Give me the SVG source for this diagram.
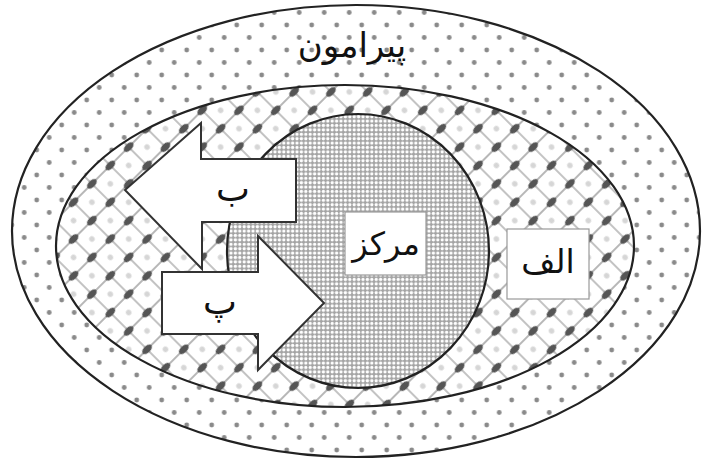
<svg xmlns="http://www.w3.org/2000/svg" width="704" height="462" viewBox="0 0 704 462">
<defs>
<pattern id="dots" patternUnits="userSpaceOnUse" x="11.7" y="0" width="25" height="25">
<rect width="25" height="25" fill="#fff"/>
<g fill="#8a8a8a"><circle cx="0" cy="0" r="2.4"/><circle cx="25" cy="0" r="2.4"/><circle cx="0" cy="25" r="2.4"/><circle cx="25" cy="25" r="2.4"/><circle cx="12.5" cy="12.5" r="2.4"/></g>
</pattern>
<pattern id="lattice" patternUnits="userSpaceOnUse" width="26" height="26" patternTransform="rotate(45)">
<rect width="26" height="26" fill="#fff"/>
<path d="M0 13H26M13 0V26" stroke="#888" stroke-width="1.2" fill="none"/>
<g fill="#d6d6d6"><circle cx="0" cy="0" r="2.8"/><circle cx="26" cy="0" r="2.8"/><circle cx="0" cy="26" r="2.8"/><circle cx="26" cy="26" r="2.8"/></g>
<ellipse cx="13" cy="13" rx="3.4" ry="6" fill="#555"/>
</pattern>
<pattern id="mesh" patternUnits="userSpaceOnUse" width="4.4" height="4.4">
<rect width="4.4" height="4.4" fill="#a4a4a4"/>
<circle cx="2.2" cy="2.2" r="1.65" fill="#fff"/>
</pattern>
<style>
.ring{stroke:#222;stroke-width:2.2}
.arrow{fill:#fff;stroke:#333;stroke-width:2}
.box{fill:#fff;stroke:#999;stroke-width:1.2}
.lbl{font-family:"DejaVu Sans",sans-serif;fill:#111;text-anchor:middle;direction:rtl}
</style>
</defs>
<g id="outer">
<ellipse cx="356" cy="231" rx="344" ry="226" fill="url(#dots)" class="ring"/>
<text class="lbl" x="352" y="57" font-size="34">پیرامون</text>
</g>
<g id="alef-ring">
<ellipse cx="345" cy="246" rx="289" ry="161" fill="url(#lattice)" class="ring"/>
</g>
<g id="center">
<ellipse cx="358" cy="251" rx="131" ry="137" fill="url(#mesh)" class="ring"/>
</g>
<g id="connectors">
<g id="arrow-be">
<path class="arrow" d="M125,190 L201,123 L201,159 L296,159 L296,222 L202,222 L202,269 Z"/>
<text class="lbl" x="233" y="201" font-size="36">ب</text>
</g>
<g id="arrow-pe">
<path class="arrow" d="M162,272 L258,272 L258,236 L324,303 L258,370 L258,334 L162,334 Z"/>
<text class="lbl" x="220" y="314" font-size="36">پ</text>
</g>
</g>
<g id="label-markaz">
<rect class="box" x="345" y="212" width="81" height="63"/>
<text class="lbl" x="386" y="255" font-size="32">مرکز</text>
</g>
<g id="label-alef">
<rect class="box" x="507" y="229" width="82" height="70"/>
<text class="lbl" x="548" y="273" font-size="33">الف</text>
</g>
</svg>
